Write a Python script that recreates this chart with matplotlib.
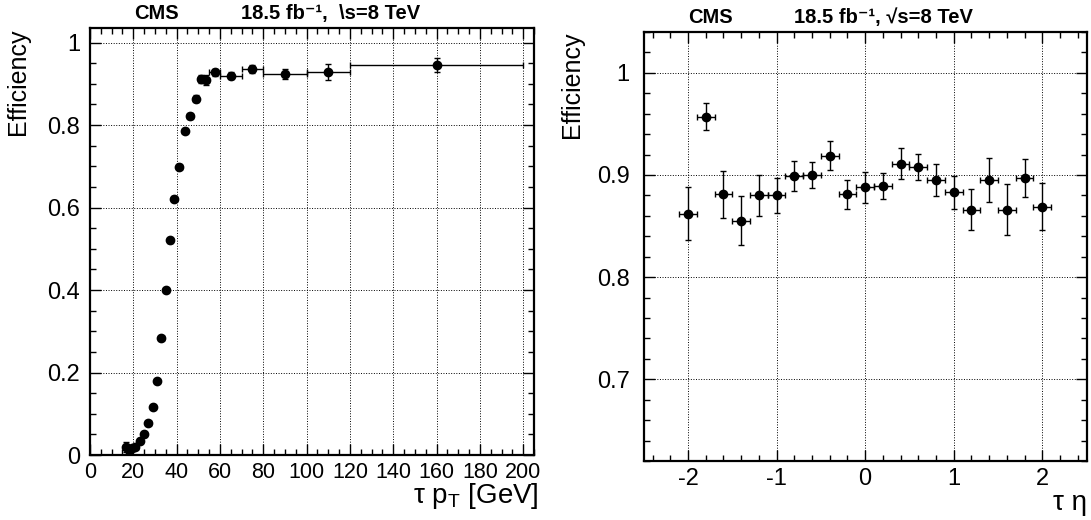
import numpy as np
import matplotlib
matplotlib.use("Agg")
import matplotlib.pyplot as plt
from matplotlib.ticker import MultipleLocator, FormatStrFormatter

plt.rcParams['font.family'] = ['Liberation Sans', 'DejaVu Sans']
plt.rcParams['mathtext.fontset'] = 'custom'
plt.rcParams['mathtext.rm'] = 'Liberation Sans'
plt.rcParams['axes.unicode_minus'] = False

#%% data: efficiency vs tau pT

pt = [16.5, 18.0, 19.5, 21.0, 23.0, 25.0, 27.0, 29.0, 31.0, 33.0, 35.0, 37.0, 39.0,
      41.25, 43.75, 46.25, 48.75, 51.25, 53.75, 57.5, 65.0, 75.0, 90.0, 110.0, 160.0]
pt_err = [1.0, 1.0, 1.0, 1.0, 1.0, 1.0, 1.0, 1.0, 1.0, 1.0, 1.0, 1.0, 1.0,
          1.25, 1.25, 1.25, 1.25, 1.25, 1.25, 2.5, 5.0, 5.0, 10.0, 10.0, 40.0]
eff_pt = [0.020, 0.013, 0.016, 0.019, 0.033, 0.050, 0.078, 0.117, 0.179, 0.283, 0.400,
          0.521, 0.621, 0.699, 0.786, 0.822, 0.864, 0.911, 0.909, 0.928, 0.920, 0.935,
          0.924, 0.928, 0.945]
eff_pt_err = [0.012, 0.006, 0.006, 0.005, 0.004, 0.004, 0.004, 0.004, 0.005, 0.005, 0.006,
              0.006, 0.006, 0.006, 0.006, 0.007, 0.009, 0.010, 0.012, 0.008, 0.008, 0.010,
              0.013, 0.019, 0.017]

#%% data: efficiency vs tau eta

eta = [-2.0, -1.8, -1.6, -1.4, -1.2, -1.0, -0.8, -0.6, -0.4, -0.2, 0.0,
       0.2, 0.4, 0.6, 0.8, 1.0, 1.2, 1.4, 1.6, 1.8, 2.0]
eta_err = [0.1] * 21
eff_eta = [0.862, 0.957, 0.881, 0.855, 0.880, 0.880, 0.899, 0.900, 0.919, 0.881, 0.888,
           0.889, 0.911, 0.908, 0.895, 0.883, 0.866, 0.895, 0.866, 0.897, 0.869]
eff_eta_err = [0.026, 0.013, 0.023, 0.024, 0.020, 0.017, 0.015, 0.013, 0.014, 0.014, 0.015,
               0.013, 0.015, 0.013, 0.0155, 0.016, 0.020, 0.0215, 0.025, 0.019, 0.023]

#%% figure

fig = plt.figure(figsize=(10.91, 5.2), dpi=100)
ax1 = fig.add_axes([0.0825, 0.125, 0.407, 0.821])
ax2 = fig.add_axes([0.590, 0.1135, 0.406, 0.825])


def style(ax, xmaj, xmin, ymaj, ymin, ypad):
    ax.xaxis.set_major_locator(MultipleLocator(xmaj))
    ax.xaxis.set_minor_locator(MultipleLocator(xmin))
    ax.yaxis.set_major_locator(MultipleLocator(ymaj))
    ax.yaxis.set_minor_locator(MultipleLocator(ymin))
    ax.xaxis.set_major_formatter(FormatStrFormatter('%g'))
    ax.yaxis.set_major_formatter(FormatStrFormatter('%g'))
    ax.tick_params(which='both', direction='in', top=True, right=True,
                   labelsize=17, width=1)
    ax.tick_params(which='major', length=8)
    ax.tick_params(which='minor', length=4)
    ax.tick_params(axis='x', which='major', pad=5)
    ax.tick_params(axis='y', which='major', pad=ypad)
    ax.grid(True, which='major', linestyle=':', color='black', linewidth=0.7)
    for s in ax.spines.values():
        s.set_linewidth(1.6)


def header(ax, second):
    ax.text(0.10, 1.012, 'CMS', transform=ax.transAxes, fontsize=14.5,
            fontweight='bold', ha='left', va='bottom')
    ax.text(0.34, 1.012, second, transform=ax.transAxes, fontsize=14.5,
            fontweight='bold', ha='left', va='bottom')


# left: pT turn-on
ax1.errorbar(pt, eff_pt, xerr=pt_err, yerr=eff_pt_err, fmt='o', color='black',
             ms=6, elinewidth=1, capsize=2, capthick=1)
ax1.set_xlim(0, 205)
ax1.set_ylim(0, 1.035)
style(ax1, 20, 5, 0.2, 0.05, 7)
ax1.tick_params(axis='x', labelsize=15.5)
header(ax1, '18.5 fb\u207b\u00b9,  \\s=8 TeV')
ax1.set_ylabel('Efficiency', fontsize=18, loc='top')
ax1.yaxis.set_label_coords(-0.135, 1.0)
ax1.set_xlabel('\u03c4 p$_{\\rm T}$ [GeV]', fontsize=20, loc='right')
ax1.xaxis.set_label_coords(1.01, -0.062)

# right: eta
ax2.errorbar(eta, eff_eta, xerr=eta_err, yerr=eff_eta_err, fmt='o', color='black',
             ms=6, elinewidth=1, capsize=2, capthick=1)
ax2.set_xlim(-2.5, 2.5)
ax2.set_ylim(0.62, 1.04)
style(ax2, 1, 0.2, 0.1, 0.02, 10)
header(ax2, '18.5 fb\u207b\u00b9, \u221as=8 TeV')
ax2.set_ylabel('Efficiency', fontsize=18, loc='top')
ax2.yaxis.set_label_coords(-0.135, 1.0)
ax2.set_xlabel('\u03c4 \u03b7', fontsize=20, loc='right')
ax2.xaxis.set_label_coords(1.0, -0.068)

plt.savefig('out.png', dpi=100)
